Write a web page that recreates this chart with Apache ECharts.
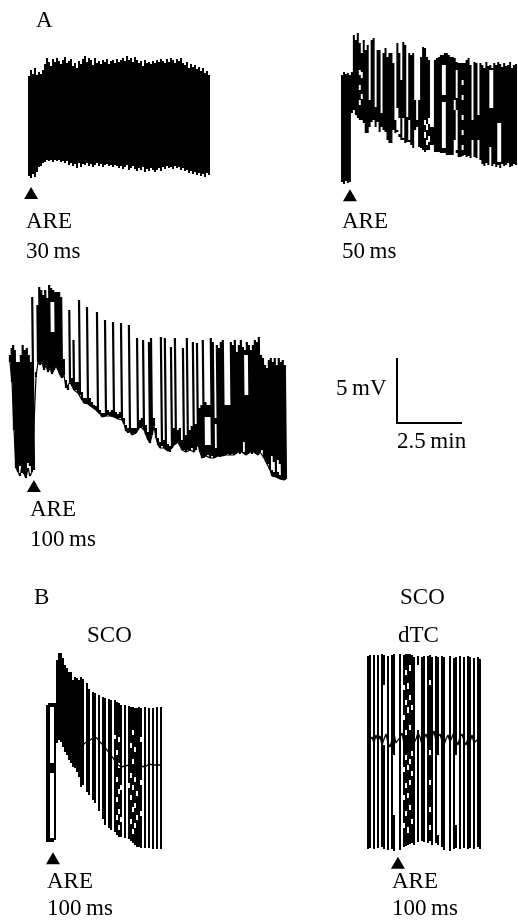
<!DOCTYPE html>
<html><head><meta charset="utf-8">
<style>html,body{margin:0;padding:0;background:#fff}#c{width:518px;height:920px}</style>
<script src="https://cdn.jsdelivr.net/npm/echarts@6/dist/echarts.min.js"></script>
</head><body><div id="c"></div>
<script>
// Traces: one entry per sweep column. Amplitudes are counts above the panel's reference level (13 counts = 1 mV).
const a1Top=[104,110,106,112,105,108,106,110,116,122,118,114,121,118,122,119,116,120,123,117,119,121,114,117,112,119,116,121,124,118,122,120,115,122,117,119,116,120,118,121,116,119,120,117,121,118,120,122,119,124,120,122,118,123,120,117,119,114,120,117,118,116,119,117,120,118,121,119,117,121,118,122,120,117,121,119,122,117,115,118,112,116,113,115,111,113,109,112,107,109,105];
const a1Bot=[4,2,6,3,8,13,14,17,18,20,19,20,18,20,19,20,18,19,17,19,15,17,14,16,12,17,13,16,15,17,14,16,13,15,17,14,16,13,15,16,14,15,13,15,14,12,14,11,13,15,10,12,14,11,9,12,10,13,8,11,9,12,10,8,10,12,9,13,11,14,12,13,11,14,12,13,10,12,9,10,7,9,6,8,5,7,4,6,3,7,5];

const a2Top=[115,118,116,117,115,118,155,150,157,147,137,150,140,145,90,150,152,83,140,140,77,137,142,133,137,137,127,70,147,137,110,148,145,73,137,135,137,90,70,90,133,143,142,133,130,63,63,130,132,133,135,135,137,137,135,133,133,132,128,127,127,127,127,130,132,125,70,128,127,75,127,125,122,128,124,125,122,127,125,128,126,123,127,124,125,128,122,125,126];
const a2Bot=[8,6,9,7,8,77,80,75,72,70,70,67,57,57,63,68,70,63,68,58,63,60,58,50,47,47,60,57,58,53,50,50,47,48,48,45,42,60,63,43,42,40,38,40,40,45,45,38,38,38,37,37,37,35,35,35,35,50,37,33,33,34,35,33,34,32,50,33,32,50,30,26,24,27,25,27,24,26,23,25,22,26,24,25,27,23,24,26,25];
const a2Gaps=[[9,120,115],[9,105,100],[9,90,85],[10,118,112],[10,96,91],[28,82,60],[29,72,56],[31,72,52],[34,70,50],[42,70,65],[42,58,52],[43,66,60],[43,50,45],[44,72,66],[44,54,48],[51,125,95],[51,88,42],[52,125,95],[52,88,42],[57,90,80],[58,120,92],[58,80,40],[61,110,105],[61,95,90],[61,75,70],[61,60,55],[61,45,40],[75,120,82],[75,43,27],[76,120,82],[79,67,28],[80,67,28]];

const a3Top=[135,142,145,140,128,128,135,145,140,142,135,128,193,118,185,203,200,195,200,192,205,202,200,198,198,198,193,131,110,105,180,112,150,108,108,190,98,92,92,183,92,88,85,84,178,80,77,77,170,80,78,80,168,78,76,78,167,72,65,62,165,62,62,62,152,70,72,150,65,58,148,152,72,62,52,48,153,50,152,46,44,143,62,152,60,62,50,142,55,152,60,64,148,66,147,82,85,150,88,85,85,152,148,72,145,142,148,150,85,85,85,148,145,150,138,145,150,143,140,148,145,140,145,150,148,153,135,132,125,122,130,132,128,132,125,132,128,130,125];
const a3Bot=[128,108,60,22,18,14,24,16,12,22,14,18,20,113,128,125,128,120,125,118,122,116,120,124,120,115,112,115,102,100,108,104,100,100,97,95,90,87,86,86,84,83,81,80,78,76,73,73,74,75,74,74,73,72,71,72,70,66,59,57,58,55,56,57,60,64,63,60,55,50,47,55,64,52,45,42,44,42,40,39,38,42,45,46,48,44,40,40,38,40,40,42,38,40,46,38,32,32,34,35,32,34,32,33,34,33,34,34,35,36,35,36,35,36,38,36,38,36,35,36,38,36,38,36,35,38,40,32,28,26,20,14,13,13,12,11,10,10,11];
const a3Gaps=[[5,24,17],[6,23,17],[9,27,20],[10,24,16],[21,188,158],[22,188,158],[98,73,45],[99,73,45],[100,73,45],[103,66,42],[118,135,95],[119,135,95],[117,48,38],[131,34,20],[132,28,18],[134,30,18],[135,26,15]];

const b1Top=[150,152,152,152,152,195,202,202,197,190,187,183,183,175,178,177,175,178,176,null,172,166,null,163,162,null,160,null,158,157,null,156,155,null,155,153,152,150,null,150,null,149,148,148,147,147,148,147,null,148,null,147,null,147,null,148,null,148];
const b1Bot=[13,13,13,13,15,112,115,113,108,103,100,95,92,88,87,83,78,68,70,null,63,60,null,55,52,null,44,null,36,30,null,27,25,null,23,20,18,18,null,17,null,16,14,12,10,8,8,7,null,7,null,7,null,6,null,6,null,6];
const b1Gaps=[[2,148,92],[2,82,17],[3,148,92],[3,82,17],[34,120,116],[35,105,100],[35,78,73],[35,58,53],[35,40,35],[36,118,113],[36,92,87],[36,66,61],[36,46,41],[36,30,25],[37,70,65],[37,38,33],[41,72,67],[42,112,107],[42,82,77],[42,60,55],[42,36,31],[43,125,120],[43,96,91],[43,70,65],[43,48,43],[43,26,21],[44,108,103],[44,78,73],[44,52,47],[44,32,27],[45,64,59],[45,40,35],[47,118,113],[47,75,70],[47,44,39]];
const b1Mid=[null,null,null,null,null,null,null,null,null,null,null,null,null,null,null,105,106,108,110,112,113,114,116,117,116,117,114,112,110,108,105,103,100,97,94,91,90,88,90,89,88,90,89,88,90,89,91,89,90,88,90,91,89,90,89,90,91,90];

const b2Top=[199,200,null,200,null,200,null,201,200,null,199,null,200,201,null,null,201,null,200,201,201,201,200,198,null,199,null,198,199,null,199,200,198,null,199,198,null,199,198,null,null,199,null,197,198,null,199,null,198,null,199,198,null,197,null,198,196];
const b2Bot=[6,7,null,6,null,7,null,8,6,null,5,null,6,4,null,null,5,null,8,9,10,11,12,10,null,13,null,14,13,null,12,14,10,null,12,10,null,8,5,null,null,4,null,6,7,null,6,null,7,null,6,7,null,6,null,8,6];
const b2Gaps=[[18,170,165],[18,140,135],[18,88,83],[18,60,55],[18,32,27],[19,185,180],[19,155,150],[19,125,120],[19,100,95],[19,72,67],[19,44,39],[20,172,166],[20,148,142],[20,90,85],[20,62,57],[20,28,22],[21,190,184],[21,160,155],[21,130,125],[21,96,91],[21,75,70],[21,50,45],[22,150,145],[22,104,99],[22,84,79],[22,36,31],[31,175,170],[31,105,100],[31,75,70],[31,48,43],[31,30,25],[8,170,110],[13,100,40],[25,190,125],[44,100,30],[35,100,20]];
const b2Mid=[112,114,118,112,120,114,119,110,116,121,112,108,115,121,112,110,118,122,112,116,110,118,121,112,116,122,118,110,116,121,115,110,118,124,114,118,121,114,110,116,120,113,118,123,115,110,118,121,114,110,117,113,120,112,110,116,118];

const scaleBarMin=[0,0,2.5];
const scaleBarMv=[5,0,0];
const stimulusMin=[0.08,0.31,0.92,0.23,1.15];
const stimulusMv=[-1,-0.4,0.3,-0.25,-0.6];

const COUNTS_PER_MV=13, MIN_PER_COL=1/13, PX_PER_MV=13, PX_PER_MIN=26;
const traces=[
 {top:a1Top,bot:a1Bot,gaps:[],w:2,lean:0},
 {top:a2Top,bot:a2Bot,gaps:a2Gaps,w:2,lean:0},
 {top:a3Top,bot:a3Bot,gaps:a3Gaps,w:2.2,lean:0.0004,base:true},
 {top:b1Top,bot:b1Bot,gaps:b1Gaps,mid:b1Mid,w:2,lean:0},
 {top:b2Top,bot:b2Bot,gaps:b2Gaps,mid:b2Mid,w:2,lean:0}
];
const frames=[
 {left:29,zero:180,above:130},
 {left:342,zero:190,above:160},
 {left:10,zero:490,above:210},
 {left:47,zero:855,above:205},
 {left:368,zero:855,above:205}
];
function columns(t){
  const pts=[];
  t.top.forEach((hi,i)=>{
    if(hi==null) return;
    const x=i*MIN_PER_COL, lo=t.bot[i];
    const at=v=>[x-(v-lo)*t.lean,v/COUNTS_PER_MV];
    let y=hi;
    t.gaps.filter(g=>g[0]===i).sort((a,b)=>b[1]-a[1]).forEach(g=>{
      pts.push(at(y),at(g[1]),[x,null]);
      y=g[2];
    });
    pts.push(at(y),at(lo),[x,null]);
  });
  return pts;
}
const grids=[],xAxes=[],yAxes=[],series=[];
const lineBase={type:'line',symbol:'none',silent:true,clip:false,animation:false,connectNulls:false};
traces.forEach((t,k)=>{
  const f=frames[k], width=t.top.length*2, below=25;
  grids.push({left:f.left,top:f.zero-f.above,width:width,height:f.above+below,show:false});
  xAxes.push({type:'value',gridIndex:k,min:0,max:width/PX_PER_MIN,show:false});
  yAxes.push({type:'value',gridIndex:k,min:-below/PX_PER_MV,max:f.above/PX_PER_MV,show:false});
  series.push(Object.assign({},lineBase,{xAxisIndex:k,yAxisIndex:k,data:columns(t),
    lineStyle:{color:'#000',width:t.w,cap:'butt'}}));
  if(t.base){
    series.push(Object.assign({},lineBase,{xAxisIndex:k,yAxisIndex:k,
      data:t.bot.map((v,i)=>[i*MIN_PER_COL,v/COUNTS_PER_MV]),lineStyle:{color:'#000',width:1.2}}));
  }
  if(t.mid){
    series.push(Object.assign({},lineBase,{xAxisIndex:k,yAxisIndex:k,
      data:t.mid.map((v,i)=>[i*MIN_PER_COL,v==null?null:v/COUNTS_PER_MV]),lineStyle:{color:'#000',width:1.3}}));
  }
  series.push({type:'scatter',xAxisIndex:k,yAxisIndex:k,silent:true,clip:false,animation:false,
    symbol:'triangle',symbolSize:[14,12],itemStyle:{color:'#000',opacity:1},
    data:[[stimulusMin[k],stimulusMv[k]]]});
});
// calibration bar: 5 mV / 2.5 min
grids.push({left:397,top:358,width:65,height:65,show:false});
xAxes.push({type:'value',gridIndex:5,min:0,max:2.5,show:false});
yAxes.push({type:'value',gridIndex:5,min:0,max:5,show:false});
series.push(Object.assign({},lineBase,{xAxisIndex:5,yAxisIndex:5,
  data:scaleBarMin.map((m,i)=>[m,scaleBarMv[i]]),lineStyle:{color:'#000',width:2,join:'miter'}}));

const texts=[
 ['A',36,32],['ARE',26,233],['30\u2009ms',26,263],
 ['ARE',342,233],['50\u2009ms',342,263],
 ['ARE',30,521],['100\u2009ms',30,551],
 ['5\u2009mV',336,400],['2.5\u2009min',397,453],
 ['B',34,609],['SCO',87,647],['SCO',400,609],['dTC',398,647],
 ['ARE',47,893],['100\u2009ms',47,920],['ARE',392,893],['100\u2009ms',392,920]
];
const chart=echarts.init(document.getElementById('c'),null,{renderer:'canvas'});
chart.setOption({
  animation:false,backgroundColor:'#fff',
  grid:grids,xAxis:xAxes,yAxis:yAxes,series:series,
  graphic:texts.map(t=>({type:'text',x:t[1],y:t[2],silent:true,
    style:{text:t[0],fill:'#000',font:'23px "Liberation Serif"',textVerticalAlign:'bottom'}}))
});
</script></body></html>
